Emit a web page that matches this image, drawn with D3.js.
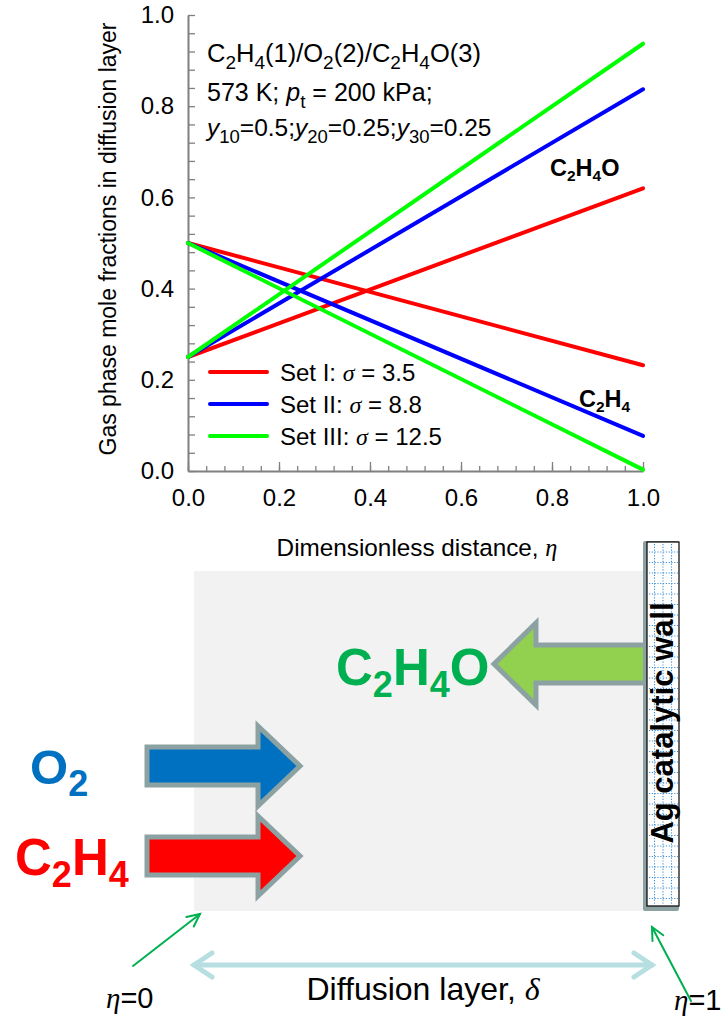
<!DOCTYPE html>
<html>
<head>
<meta charset="utf-8">
<script src="https://cdn.jsdelivr.net/npm/d3@7"></script>
<style>
  html, body { margin: 0; padding: 0; background: #fff; }
  svg { display: block; font-family: "Liberation Sans", Arial, sans-serif; }
</style>
</head>
<body>
<svg id="fig" width="728" height="1020"></svg>
<script>
// ---- data -------------------------------------------------------------
const etaPoints = [0, 1];                       // dimensionless distance at the two ends
const setNames = ["Set I", "Set II", "Set III"];
const sigmaValues = [3.5, 8.8, 12.5];
const setColors = ["#ff0000", "#0000ff", "#00ff00"];
const c2h4Profiles = [[0.5, 0.232], [0.5, 0.077], [0.5, 0.003]];   // C2H4 mole fraction
const c2h4oProfiles = [[0.25, 0.62], [0.25, 0.837], [0.25, 0.937]]; // C2H4O mole fraction
const xTickLabels = [0, 0.2, 0.4, 0.6, 0.8, 1.0];
const yTickLabels = [0, 0.2, 0.4, 0.6, 0.8, 1.0];

const svg = d3.select("#fig");

// ---- helper: text with subscripts / italics ---------------------------
function rich(g, parts, opts) {
  const size = opts.size;
  const subSize = opts.subSize || size * 0.68;
  const subDrop = opts.subDrop || size * 0.25;
  const t = g.append("text")
    .attr("x", opts.x).attr("y", opts.y)
    .attr("font-size", size)
    .attr("fill", opts.fill || "#000")
    .attr("font-weight", opts.weight || "normal")
    .attr("text-anchor", opts.anchor || "start");
  if (opts.transform) t.attr("transform", opts.transform);
  let cur = 0;
  parts.forEach(p => {
    const target = p.sub ? subDrop : 0;
    const ts = t.append("tspan").text(p.t).attr("dy", target - cur);
    cur = target;
    if (p.sub) ts.attr("font-size", subSize);
    if (p.it) ts.attr("font-style", "italic");
    if (p.serif) ts.attr("font-family", "'Liberation Serif', 'Times New Roman', serif");
  });
  return t;
}

// ---- chart ------------------------------------------------------------
const x = d3.scaleLinear().domain([0, 1]).range([188, 643]);
const y = d3.scaleLinear().domain([0, 1]).range([471, 15]);
const axisColor = "#808080";
const tickFont = 24;

const chart = svg.append("g");

// minor ticks
const minorX = d3.range(0, 1.0001, 0.04);
const minorY = d3.range(0, 1.0001, 0.04);
chart.append("g").attr("transform", `translate(0,${y(0)})`)
  .call(d3.axisBottom(x).tickValues(minorX).tickSize(-5).tickFormat(""))
  .call(g => g.select(".domain").remove())
  .call(g => g.selectAll("line").attr("stroke", axisColor).attr("stroke-width", 1.3));

// major x axis
chart.append("g").attr("transform", `translate(0,${y(0)})`)
  .call(d3.axisBottom(x).tickValues(xTickLabels).tickSize(-9).tickSizeOuter(0)
    .tickPadding(18).tickFormat(d3.format(".1f")))
  .call(g => g.select(".domain").attr("stroke", axisColor).attr("stroke-width", 2))
  .call(g => g.selectAll("line").attr("stroke", axisColor).attr("stroke-width", 1.3))
  .call(g => g.selectAll("text").attr("font-size", tickFont).attr("fill", "#000")
    .attr("font-family", "'Liberation Sans', Arial, sans-serif"));

// y axis
chart.append("g").attr("transform", `translate(${x(0)},0)`)
  .call(d3.axisLeft(y).tickValues(minorY).tickSize(-7).tickSizeOuter(0)
    .tickPadding(14).tickFormat(d => yTickLabels.some(v => Math.abs(v - d) < 1e-6) ? d3.format(".1f")(d) : ""))
  .call(g => g.select(".domain").attr("stroke", axisColor).attr("stroke-width", 2))
  .call(g => g.selectAll("line").attr("stroke", axisColor).attr("stroke-width", 1.3))
  .call(g => g.selectAll("text").attr("font-size", tickFont).attr("fill", "#000")
    .attr("font-family", "'Liberation Sans', Arial, sans-serif"));

// profile lines
const line = d3.line().x((d, i) => x(etaPoints[i])).y(d => y(d));
setNames.forEach((name, i) => {
  [c2h4Profiles[i], c2h4oProfiles[i]].forEach(vals => {
    chart.append("path").datum(vals)
      .attr("d", line).attr("fill", "none")
      .attr("stroke", setColors[i]).attr("stroke-width", 4)
      .attr("stroke-linecap", "round");
  });
});

// legend
const legendY = [372, 404, 436];
const leg = chart.append("g");
setNames.forEach((name, i) => {
  leg.append("line").attr("x1", 210).attr("x2", 267)
    .attr("y1", legendY[i]).attr("y2", legendY[i])
    .attr("stroke", setColors[i]).attr("stroke-width", 4).attr("stroke-linecap", "round");
  rich(leg, [{ t: name + ": " }, { t: "\u03c3", it: true, serif: true }, { t: " = " + sigmaValues[i] }],
    { x: 280, y: legendY[i] + 8.5, size: 24 });
});

// condition annotations
rich(chart, [{ t: "C" }, { t: "2", sub: true }, { t: "H" }, { t: "4", sub: true }, { t: "(1)/O" },
  { t: "2", sub: true }, { t: "(2)/C" }, { t: "2", sub: true }, { t: "H" }, { t: "4", sub: true }, { t: "O(3)" }],
  { x: 207, y: 62, size: 25.5, subSize: 19, subDrop: 7 });
rich(chart, [{ t: "573 K; " }, { t: "p", it: true }, { t: "t", sub: true }, { t: " = 200 kPa;" }],
  { x: 207, y: 101, size: 25, subSize: 19, subDrop: 7 });
rich(chart, [{ t: "y", it: true }, { t: "10", sub: true }, { t: "=0.5;" }, { t: "y", it: true }, { t: "20", sub: true },
  { t: "=0.25;" }, { t: "y", it: true }, { t: "30", sub: true }, { t: "=0.25" }],
  { x: 207, y: 136, size: 24.5, subSize: 18.5, subDrop: 7 });

// species labels on the lines
rich(chart, [{ t: "C" }, { t: "2", sub: true }, { t: "H" }, { t: "4", sub: true }, { t: "O" }],
  { x: 550, y: 176, size: 23.5, subSize: 15.5, subDrop: 5 , weight: "bold" });
rich(chart, [{ t: "C" }, { t: "2", sub: true }, { t: "H" }, { t: "4", sub: true }],
  { x: 579, y: 407, size: 23.5, subSize: 15.5, subDrop: 5, weight: "bold" });

// axis titles
chart.append("text")
  .attr("transform", `translate(116,239) rotate(-90)`)
  .attr("text-anchor", "middle").attr("font-size", 23)
  .text("Gas phase mole fractions in diffusion layer");
rich(chart, [{ t: "Dimensionless distance, " }, { t: "\u03b7", it: true, serif: true }],
  { x: 417, y: 556, size: 24.3, anchor: "middle" });

// ---- diffusion-layer schematic ---------------------------------------
const sch = svg.append("g");

// diffusion layer region
sch.append("rect").attr("x", 194).attr("y", 571).attr("width", 456).attr("height", 340)
  .attr("fill", "#f2f2f2");

// block arrow outline
function blockArrow(tail, tip, cy, bodyHalf, headHalf, headLen) {
  const dir = Math.sign(tip - tail);
  const back = tip - dir * headLen;
  return [[tail, cy - bodyHalf], [back, cy - bodyHalf], [back, cy - headHalf], [tip, cy],
    [back, cy + headHalf], [back, cy + bodyHalf], [tail, cy + bodyHalf]];
}
const arrowStroke = "#8ca2a2";
const arrows = [
  { pts: blockArrow(660, 494, 664, 19, 41, 42), fill: "#92d050" },
  { pts: blockArrow(147, 300, 766, 19, 40, 42), fill: "#0070c0" },
  { pts: blockArrow(147, 300, 856, 19, 40, 42), fill: "#ff0000" }
];
arrows.forEach(a => {
  sch.append("path").attr("d", d3.line()(a.pts) + "Z")
    .attr("fill", a.fill).attr("stroke", arrowStroke).attr("stroke-width", 5)
    .attr("stroke-linejoin", "miter");
});

// catalytic wall
sch.append("rect").attr("x", 643).attr("y", 541).attr("width", 36).attr("height", 370)
  .attr("rx", 2).attr("fill", "#8ca2a2");
sch.append("rect").attr("x", 647).attr("y", 542).attr("width", 32).attr("height", 364)
  .attr("fill", "#fff").attr("stroke", "#000").attr("stroke-width", 1.2);
const grid = sch.append("g").attr("stroke", "#3d8fd6").attr("stroke-width", 1.1)
  .attr("stroke-dasharray", "1.2,1.6");
[654.5, 663, 671.5].forEach(gx => {
  grid.append("line").attr("x1", gx).attr("x2", gx).attr("y1", 544).attr("y2", 904);
});
d3.range(552, 905, 10.5).forEach(gy => {
  grid.append("line").attr("x1", 649).attr("x2", 678).attr("y1", gy).attr("y2", gy);
});
sch.append("text")
  .attr("transform", "translate(673,723) rotate(-90)")
  .attr("text-anchor", "middle").attr("font-size", 31).attr("font-weight", "bold")
  .text("Ag catalytic wall");

// species names beside the block arrows
rich(sch, [{ t: "C" }, { t: "2", sub: true }, { t: "H" }, { t: "4", sub: true }, { t: "O" }],
  { x: 336, y: 685, size: 51, subSize: 36, subDrop: 12, weight: "bold", fill: "#00b050" });
rich(sch, [{ t: "O" }, { t: "2", sub: true }],
  { x: 30, y: 784, size: 49, subSize: 36, subDrop: 12, weight: "bold", fill: "#0070c0" });
rich(sch, [{ t: "C" }, { t: "2", sub: true }, { t: "H" }, { t: "4", sub: true }],
  { x: 15, y: 875, size: 51, subSize: 36, subDrop: 12, weight: "bold", fill: "#ff0000" });

// diffusion layer span
const span = sch.append("g").attr("stroke", "#b7dfe2").attr("stroke-width", 5)
  .attr("stroke-linecap", "round").attr("fill", "none");
span.append("line").attr("x1", 194).attr("x2", 652).attr("y1", 965).attr("y2", 965);
span.append("path").attr("d", "M212,953 L194,965 L212,977");
span.append("path").attr("d", "M634,953 L652,965 L634,977");
rich(sch, [{ t: "Diffusion layer, " }, { t: "\u03b4", it: true, serif: true }],
  { x: 423, y: 1000, size: 32, anchor: "middle" });

// boundary pointers
const ptr = sch.append("g").attr("stroke", "#00b050").attr("stroke-width", 2)
  .attr("fill", "none").attr("stroke-linecap", "round");
function pointer(x1, y1, x2, y2) {
  ptr.append("line").attr("x1", x1).attr("y1", y1).attr("x2", x2).attr("y2", y2);
  const ang = Math.atan2(y2 - y1, x2 - x1);
  const L = 14, spread = 0.45;
  const a1 = ang + Math.PI - spread, a2 = ang + Math.PI + spread;
  ptr.append("path").attr("d",
    `M${x2 + L * Math.cos(a1)},${y2 + L * Math.sin(a1)} L${x2},${y2} L${x2 + L * Math.cos(a2)},${y2 + L * Math.sin(a2)}`);
}
pointer(133, 966, 200, 914);
pointer(691, 1001, 652, 927);

rich(sch, [{ t: "\u03b7", it: true, serif: true }, { t: "=0" }], { x: 106, y: 1008, size: 29 });
rich(sch, [{ t: "\u03b7", it: true, serif: true }, { t: "=1" }], { x: 674, y: 1010, size: 29 });
</script>
</body>
</html>
